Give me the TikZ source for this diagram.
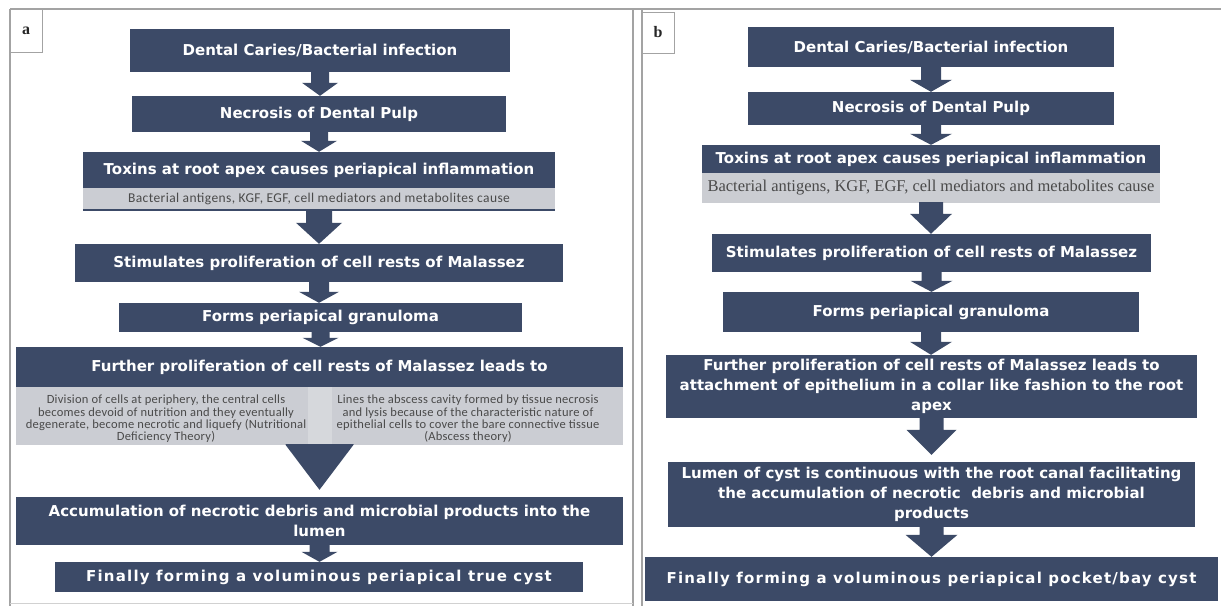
\documentclass[tikz,border=0pt]{standalone}
\usepackage{fontspec}
\setmainfont{Liberation Serif}
\newfontfamily\boxfont{DejaVu Sans}
\newfontfamily\smallfont{Carlito}
\newfontfamily\serifgrey{Liberation Serif}
\usetikzlibrary{calc}
\definecolor{navy}{HTML}{3C4A67}
\definecolor{greyA}{HTML}{CBCDD3}
\definecolor{greyB}{HTML}{CBCDD2}
\definecolor{shaftA}{HTML}{D6D8DC}
\definecolor{framec}{HTML}{A3A3A3}
\definecolor{greytext}{HTML}{4A4A4A}

\tikzset{
  dbox/.style={fill=navy, text=white, inner sep=0pt, align=center,
    font=\boxfont\bfseries\fontsize{15}{20}\selectfont},
  wide/.style={font=\boxfont\bfseries\fontsize{15}{20}\selectfont\addfontfeature{LetterSpace=8}},
  gboxa/.style={fill=greyA, inner sep=0pt, text=greytext, align=center,
    font=\smallfont\fontsize{13.5}{13.5}\selectfont\addfontfeature{LetterSpace=3}},
  gboxb/.style={fill=greyB, inner sep=0pt, text=greytext, align=center,
    font=\serifgrey\fontsize{16.5}{16.5}\selectfont},
  coltext/.style={inner sep=0pt, text=greytext, align=center,
    font=\smallfont\fontsize{12.5}{12.3}\selectfont\addfontfeature{LetterSpace=2}},
  lbl/.style={draw=framec, line width=1pt, inner sep=0pt, text=black!85,
    font=\serifgrey\bfseries\fontsize{16}{16}\selectfont},
  framel/.style={draw=framec, line width=1.5pt}
}

% \place[style]{name}{x1}{y1}{x2}{y2}{text}
\newcommand{\place}[7][]{\node[#1,minimum width={#5-#3},minimum height={#6-#4}] (#2) at ({(#3+#5)/2},{(#4+#6)/2}) {#7};}

% \barrow{from}{to}{shaft half}{head half}{head length}{gap}
\newcommand{\barrow}[6]{%
  \path (#1.south) coordinate (bs) (#1.south |- #2.north) coordinate (bt0);
  \path ($(bt0)+(0,-#6)$) coordinate (bt);
  \fill[navy] ($(bs)+(-#3,-1)$) -- ($(bt)+(-#3,-#5)$) -- ($(bt)+(-#4,-#5)$) -- (bt)
     -- ($(bt)+(#4,-#5)$) -- ($(bt)+(#3,-#5)$) -- ($(bs)+(#3,-1)$) -- cycle;
}

\begin{document}
\begin{tikzpicture}[x=1pt,y=-1pt]
\useasboundingbox[fill=white] (0,0) rectangle (1221,606);

% frames
\draw[framel] (10,9) -- (1221,9);
\draw[framel] (10,9) -- (10,606);
\draw[framel] (633,9) -- (633,606);
\draw[framel] (642,9) -- (642,606);
\draw[draw=framec!50, line width=1pt] (10,603) -- (633,603);

\place[lbl]{la}{10}{9}{42}{52}{a}
\place[lbl]{lb}{642}{12}{674}{53}{b}

% ---------------- panel a ----------------
\place[dbox]{a1}{130}{29}{510}{72}{Dental Caries/Bacterial infection}
\place[dbox]{a2}{132}{96}{506}{132}{Necrosis of Dental Pulp}
\place[dbox]{a3}{83}{152}{555}{188}{Toxins at root apex causes periapical inflammation}
\place[gboxa]{a3g}{83}{188}{555}{210}{Bacterial antigens, KGF, EGF, cell mediators and metabolites cause}
\draw[navy, line width=2.5pt] (a3g.south west) -- (a3g.south east);
\place[dbox]{a4}{75}{244}{563}{282}{Stimulates proliferation of cell rests of Malassez}
\place[dbox]{a5}{119}{303}{522}{332}{Forms periapical granuloma}
\place[dbox]{a6}{16}{347}{623}{387}{Further proliferation of cell rests of Malassez leads to}
\place[gboxa]{a6g}{16}{387}{623}{445}{}
\fill[shaftA] ($(a6g.south)+(-12,-58)$) rectangle ($(a6g.south)+(12,0)$);
\node[coltext] (a6l) at (166,419) {Division of cells at periphery, the central cells\\becomes devoid of nutrition and they eventually\\degenerate, become necrotic and liquefy (Nutritional\\Deficiency Theory)};
\node[coltext] (a6r) at (468,419) {Lines the abscess cavity formed by tissue necrosis\\and lysis because of the characteristic nature of\\epithelial cells to cover the bare connective tissue\\(Abscess theory)};
\place[dbox]{a7}{16}{497}{623}{545}{Accumulation of necrotic debris and microbial products into the\\lumen}
\place[dbox,wide]{a8}{55}{562}{583}{592}{Finally forming a voluminous periapical true cyst}

\barrow{a1}{a2}{9}{18}{13}{0}
\barrow{a2}{a3}{9}{18}{11}{0}
\barrow{a3g}{a4}{13}{23}{21}{0}
\barrow{a4}{a5}{10}{20}{11}{0}
\barrow{a5}{a6}{9}{18}{9}{0}
\barrow{a6g}{a7}{34}{34}{45}{7}
\barrow{a7}{a8}{10}{18}{10}{0}

% ---------------- panel b ----------------
\place[dbox]{b1}{748}{27}{1114}{67}{Dental Caries/Bacterial infection}
\place[dbox]{b2}{748}{92}{1114}{125}{Necrosis of Dental Pulp}
\place[dbox]{b3}{702}{145}{1160}{173}{Toxins at root apex causes periapical inflammation}
\place[gboxb]{b3g}{702}{173}{1160}{203}{Bacterial antigens, KGF, EGF, cell mediators and metabolites cause}
\place[dbox]{b4}{712}{234}{1151}{272}{Stimulates proliferation of cell rests of Malassez}
\place[dbox]{b5}{723}{292}{1139}{332}{Forms periapical granuloma}
\place[dbox]{b6}{666}{355}{1197}{418}{Further proliferation of cell rests of Malassez leads to\\attachment of epithelium in a collar like fashion to the root\\apex}
\place[dbox]{b7}{668}{462}{1195}{527}{Lumen of cyst is continuous with the root canal facilitating\\the accumulation of necrotic\ \ debris and microbial\\products}
\place[dbox,wide]{b8}{645}{557}{1218}{601}{Finally forming a voluminous periapical pocket/bay cyst}

\barrow{b1}{b2}{10}{21}{12}{0}
\barrow{b2}{b3}{10}{21}{11}{0}
\barrow{b3g}{b4}{12}{21}{20}{0}
\barrow{b4}{b5}{10}{21}{11}{0}
\barrow{b5}{b6}{10}{21}{13}{0}
\barrow{b6}{b7}{12}{25}{25}{7}
\barrow{b7}{b8}{12}{26}{22}{0}
\end{tikzpicture}
\end{document}
